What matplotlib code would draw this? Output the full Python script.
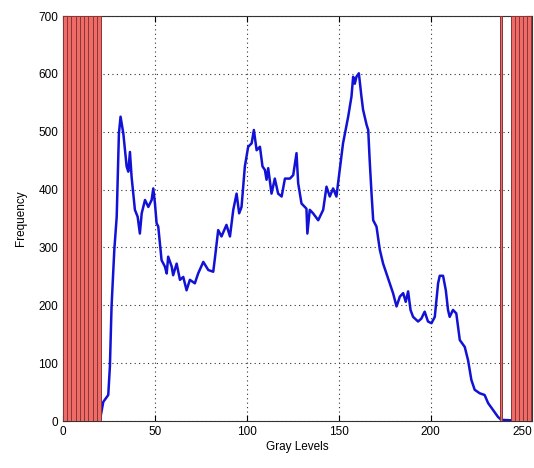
import matplotlib
matplotlib.use('Agg')
import matplotlib.pyplot as plt
import numpy as np

# gray level histogram
levels = [0, 1, 20, 21.9, 24.6, 25.5, 26.4, 27.9, 29.2, 30.4, 31.3, 32.8, 34.6, 35.5,
          36.4, 37.3, 39.1, 40.6, 41.8, 42.8, 44.6, 46.4, 48.2, 49.1, 50, 50.9, 51.8,
          53.6, 55.4, 56.4, 57.2, 59.1, 59.9, 61.8, 63.6, 65.4, 67.2, 69, 71.7, 73.5,
          76.3, 79, 81.7, 82.6, 84.4, 86.2, 88.9, 90.8, 92.6, 94.4, 95.8, 97.1, 98.9,
          100.7, 102.6, 103.8, 105.3, 107.1, 108.5, 109.8, 110.7, 111.6, 113.4, 115.2,
          117, 118.9, 120.7, 123.4, 125.2, 127, 127.9, 129.7, 132.4, 132.9, 134.2, 136,
          138.8, 141.5, 143.3, 145.1, 146.9, 148.7, 150.5, 152.3, 155.1, 156.9, 157.8,
          158.7, 159.6, 160.9, 162.3, 163.2, 165.1, 166, 166.8, 167.8, 168.7, 170.5,
          172.3, 174.1, 175.9, 177.7, 179.5, 181.4, 183.2, 185, 186.4, 187.7, 189,
          190.4, 193.1, 194.9, 196.7, 198.5, 200.4, 202.2, 204, 204.9, 206.7, 208.2,
          209.4, 210.3, 212.1, 213.9, 215.8, 218.5, 220.3, 222.1, 223.9, 226.6, 229.3,
          231.2, 233.9, 236.6, 238.4, 245, 255]
freq = [250, 0, 0, 33, 45, 94, 198, 296, 353, 497, 526, 497, 440, 431,
        465, 422, 365, 353, 324, 359, 382, 370, 382, 402, 376, 342, 336,
        278, 267, 255, 284, 267, 252, 272, 244, 249, 226, 244, 238, 255,
        275, 261, 258, 281, 330, 319, 339, 319, 365, 393, 359, 370, 440,
        474, 480, 503, 468, 474, 440, 434, 417, 437, 393, 419,
        393, 388, 419, 419, 425, 463, 411, 376, 367, 324, 365, 359,
        347, 365, 405, 388, 402, 388, 434, 480, 526, 561, 595,
        583, 595, 601, 561, 538, 512, 503, 450, 393, 347, 336,
        296, 272, 255, 238, 221, 198, 215, 221, 206, 224, 192,
        180, 172, 177, 189, 172, 169, 180, 238, 251, 251, 226,
        192, 180, 192, 186, 140, 128, 105, 71, 54, 48, 45,
        31, 19, 7, 2, 1, 0]

# saturated bands at both ends (left edge, width)
left_bands = [0, 2.3, 4.6, 6.9, 9.2, 11.5, 13.8, 16.1, 18.4]
left_w = 2.3
right_bands = [237.5, 243.7, 246.0, 248.2, 250.4, 252.2, 254.6]
right_w = [1.3, 2.3, 2.2, 2.2, 1.8, 2.4, 0.4]

plt.rcParams['font.family'] = ['Liberation Sans', 'DejaVu Sans']
plt.rcParams['font.size'] = 8.5

fig = plt.figure(figsize=(5.34, 4.68), dpi=100)
ax = fig.add_axes([0.118, 0.1004, 0.878, 0.8654])

ax.bar(left_bands, [700] * len(left_bands), width=left_w, align='edge',
       color='#ef6b68', edgecolor='#8a3535', linewidth=0.7, zorder=3)
ax.bar(right_bands, [700] * len(right_bands), width=right_w, align='edge',
       color='#ef6b68', edgecolor='#8a3535', linewidth=0.7, zorder=3)

ax.plot(levels, freq, color='#1212d6', linewidth=1.8, zorder=2)

ax.axis([0, 255, 0, 700])
ax.set_xticks([0, 50, 100, 150, 200, 250])
ax.set_yticks(range(0, 701, 100))
ax.grid(which='major', color='#333333', linestyle=(0, (1, 3)), linewidth=0.8)
ax.tick_params(direction='in', top=True, right=True, length=4)
for s in ax.spines.values():
    s.set_color('#333333')
ax.set_xlabel('Gray Levels', labelpad=2)
ax.set_ylabel('Frequency', labelpad=8)

fig.savefig('out.png', dpi=100)
